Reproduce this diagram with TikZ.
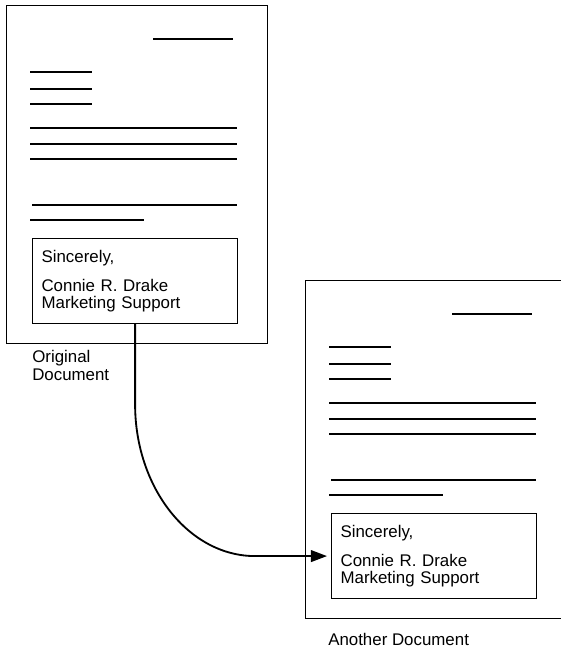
\documentclass[tikz,border=0pt]{standalone}
\usepackage{fontspec}
\setmainfont{Liberation Sans}
\usetikzlibrary{arrows.meta,positioning}

\begin{document}
\begin{tikzpicture}[
  x=0.025cm,y=-0.025cm,
  page/.style={draw=black,line width=0.9pt,minimum width=6.525cm,minimum height=8.45cm,inner sep=0pt,anchor=north west},
  sigbox/.style={draw=black,line width=0.8pt,minimum width=5.125cm,minimum height=2.125cm,text width=4.675cm,inner xsep=0.225cm,inner ysep=0pt,align=left,anchor=north west,font=\fontsize{12}{12.1}\selectfont},
  caption/.style={anchor=north west,inner sep=0pt,align=left,font=\fontsize{12}{12.8}\selectfont},
  textline/.style={line width=0.8pt},
  copyarrow/.style={-{Triangle[length=4mm,width=2.9mm]},line width=1.3pt,shorten >=0.1cm}
]
\useasboundingbox (0,0) rectangle (560,651);

% the two letters, same layout (right one runs off the edge)
\node[page] (orig) at (6,5) {};
\node[page,minimum width=7.5cm] (copy) at (305,280) {};
\foreach \pg in {orig,copy}{
  \draw[textline] ([shift={(147,34)}]\pg.north west) -- ++(80,0);
  \foreach \y in {67,84,99}
    \draw[textline] ([shift={(24,\y)}]\pg.north west) -- ++(62,0);
  \foreach \y in {123,139,154}
    \draw[textline] ([shift={(24,\y)}]\pg.north west) -- ++(207,0);
  \draw[textline] ([shift={(26,200)}]\pg.north west) -- ++(205,0);
  \draw[textline] ([shift={(24,215)}]\pg.north west) -- ++(114,0);
}

% closing blocks
\node[sigbox] (sig1) at ([shift={(26,233)}]orig.north west) {
  Sincerely,\\[8.5pt]
  Connie R. Drake\\
  Marketing Support
};
\node[sigbox] (sig2) at ([shift={(26,233)}]copy.north west) {
  Sincerely,\\[8.5pt]
  Connie R. Drake\\
  Marketing Support
};

\node[caption] (origlabel) at ([shift={(26,6)}]orig.south west) {Original\\Document};
\node[caption] (copylabel) at ([shift={(23,14)}]copy.south west) {Another Document};

% copy arrow
\coordinate (corner) at (sig1.south |- sig2.west);
\coordinate (turn) at ([xshift=3cm]corner);
\draw[copyarrow] (sig1.south) -- ++(0,80) .. controls +(0,84) and +(-66,0) .. (turn) -- (sig2.west);
\end{tikzpicture}
\end{document}
